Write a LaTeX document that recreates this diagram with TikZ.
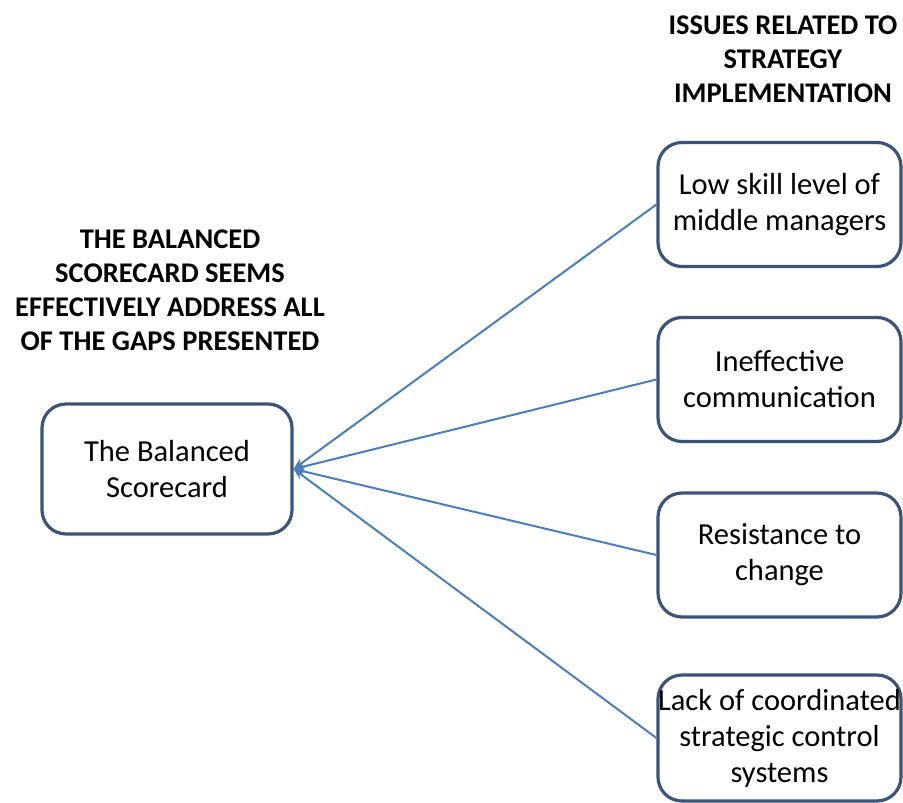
\documentclass[tikz,border=0pt]{standalone}
\usepackage{fontspec}
\setmainfont{Carlito}
\usetikzlibrary{arrows.meta}
\definecolor{boxline}{HTML}{3A5479}
\definecolor{linkblue}{HTML}{4A7EBB}
\begin{document}
\begin{tikzpicture}[x=1pt,y=-1pt,
  card/.style={draw=boxline, line width=3.2pt, rounded corners=24pt, fill=white,
    align=center, font=\fontsize{30.5}{36}\selectfont, inner sep=0pt},
  issue/.style={card, minimum width=243pt, minimum height=124pt},
  heading/.style={align=center, font=\bfseries\fontsize{28.5}{34}\selectfont, inner sep=0pt},
  connector/.style={draw=linkblue, line width=2pt, -{Stealth[length=11pt,width=9pt]}}
]
\useasboundingbox (0,0) rectangle (903,803);

% column headings
\node[heading] (hdrR) at (783,59) {ISSUES RELATED TO\\STRATEGY\\IMPLEMENTATION};
\node[heading] (hdrL) at (170,290) {THE BALANCED\\SCORECARD SEEMS\\EFFECTIVELY ADDRESS ALL\\OF THE GAPS PRESENTED};

% central box
\node[card, minimum width=250pt, minimum height=130pt] (bsc) at (167,469) {The Balanced\\Scorecard};

% issue boxes
\node[issue] (skill)  at (779.5,204.5) {Low skill level of\\middle managers};
\node[issue] (comm)   at (779.5,379.5) {Ineffective\\communication};
\node[issue] (resist) at (779.5,555)   {Resistance to\\change};
\node[issue, minimum height=126pt] (coord) at (779.5,738) {Lack of coordinated\\strategic control\\systems};

% connectors
\draw[connector] (skill.west)  -- (bsc.east);
\draw[connector] (comm.west)   -- (bsc.east);
\draw[connector] (resist.west) -- (bsc.east);
\draw[connector] (coord.west)  -- (bsc.east);
\end{tikzpicture}
\end{document}
